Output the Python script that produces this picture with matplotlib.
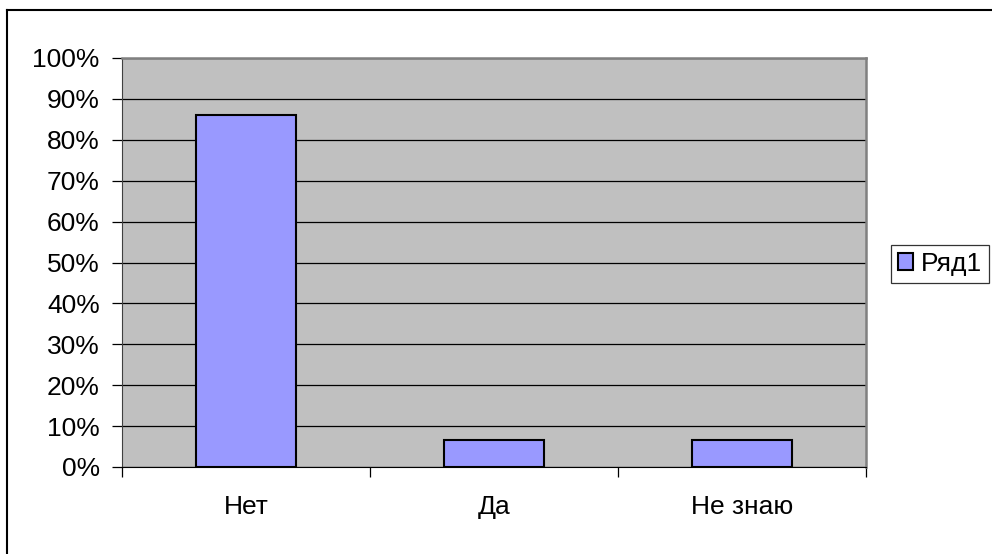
import matplotlib.pyplot as plt
from matplotlib.lines import Line2D
from matplotlib.ticker import PercentFormatter

categories = ["Нет", "Да", "Не знаю"]
values = [0.86, 0.066, 0.066]
series_name = "Ряд1"
yticks = [0, 0.1, 0.2, 0.3, 0.4, 0.5, 0.6, 0.7, 0.8, 0.9, 1.0]

plt.rcParams['font.family'] = ['Liberation Sans', 'DejaVu Sans']

fig = plt.figure(figsize=(9.92, 5.54), dpi=100)
ax = fig.add_axes([122 / 992, 1 - 467 / 554, 744 / 992, 409 / 554])
ax.set_facecolor("#c0c0c0")

x = range(len(categories))
ax.bar(x, values, width=0.4, color="#9999ff", edgecolor="black", linewidth=1.5,
       label=series_name, zorder=3)

ax.set_xlim(-0.5, len(categories) - 0.5)
ax.set_ylim(0, 1)
ax.set_yticks(yticks)
ax.yaxis.set_major_formatter(PercentFormatter(1.0, decimals=0))
ax.yaxis.grid(True, color="black", linewidth=0.9, zorder=1)
ax.set_axisbelow(True)

ax.set_xticks([i - 0.5 for i in range(len(categories) + 1)])
ax.set_xticklabels([])
ax.set_xticks(list(x), minor=True)
ax.set_xticklabels(categories, minor=True)
ax.tick_params(axis="x", which="major", length=7, direction="out", width=0.9)
ax.tick_params(axis="x", which="minor", length=0, pad=20, labelsize=19)
ax.tick_params(axis="y", length=7, width=0.9, labelsize=19, pad=9)

for side in ["top", "right"]:
    ax.spines[side].set_color("#808080")
    ax.spines[side].set_linewidth(1.8)
ax.spines["left"].set_color("#404040")
ax.spines["bottom"].set_color("black")

leg = fig.legend(loc="center left", bbox_to_anchor=(891 / 992, 1 - 264 / 554),
                 fontsize=19, frameon=True, fancybox=False, edgecolor="black",
                 handlelength=0.6, handleheight=0.6, handletextpad=0.3,
                 borderpad=0.25, borderaxespad=0)
leg.get_frame().set_linewidth(0.9)

# outer chart frame (only top and left visible)
fig.add_artist(Line2D([7 / 992, 7 / 992], [0, 1 - 10 / 554], color="black", linewidth=1.5,
                      transform=fig.transFigure))
fig.add_artist(Line2D([7 / 992, 1], [1 - 10 / 554, 1 - 10 / 554], color="black", linewidth=1.5,
                      transform=fig.transFigure))

fig.savefig("out.png", dpi=100)
